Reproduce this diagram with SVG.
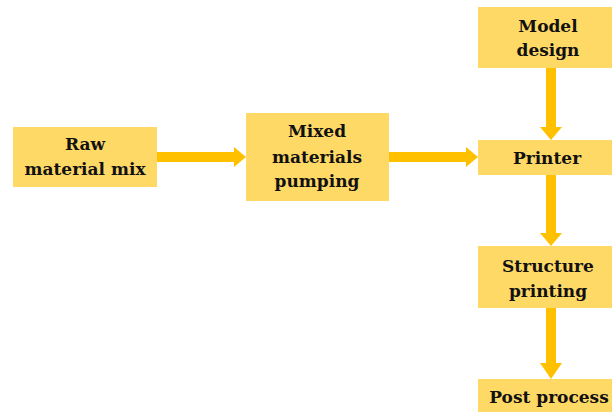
<svg xmlns="http://www.w3.org/2000/svg" width="612" height="412" viewBox="0 0 612 412">
<style>
.box{fill:#FFD966;}
.t{font-family:"DejaVu Serif","Liberation Serif",serif;font-weight:bold;font-size:17px;fill:#111;text-anchor:middle;}
.c{stroke:#FFC000;stroke-width:10;fill:none;}
.h{fill:#FFC000;}
</style>
<rect width="612" height="412" fill="#fff"/>
<g id="connectors">
<line class="c" x1="157" y1="157" x2="235" y2="157"/><polygon class="h" points="234,147 246,157 234,167"/>
<line class="c" x1="389" y1="157" x2="467" y2="157"/><polygon class="h" points="466,147 478,157 466,167"/>
<line class="c" x1="551" y1="68" x2="551" y2="128"/><polygon class="h" points="540,127 562,127 551,140"/>
<line class="c" x1="551" y1="175" x2="551" y2="234"/><polygon class="h" points="540,233 562,233 551,246"/>
<line class="c" x1="551" y1="308" x2="551" y2="364"/><polygon class="h" points="540,363 562,363 551,379"/>
</g>
<g id="raw"><rect class="box" x="13" y="127" width="144" height="60"/><text class="t" x="85" y="150">Raw</text><text class="t" x="85" y="175">material mix</text></g>
<g id="mixed"><rect class="box" x="246" y="113" width="143" height="88"/><text class="t" x="317" y="137">Mixed</text><text class="t" x="317" y="163">materials</text><text class="t" x="317" y="187">pumping</text></g>
<g id="model"><rect class="box" x="478" y="7" width="134" height="61"/><text class="t" x="548" y="32">Model</text><text class="t" x="548" y="56">design</text></g>
<g id="printer"><rect class="box" x="478" y="140" width="134" height="35"/><text class="t" x="547" y="164">Printer</text></g>
<g id="structure"><rect class="box" x="478" y="246" width="134" height="62"/><text class="t" x="548" y="272">Structure</text><text class="t" x="548" y="297">printing</text></g>
<g id="post"><rect class="box" x="478" y="379" width="134" height="33"/><text class="t" x="549" y="403">Post process</text></g>
</svg>
